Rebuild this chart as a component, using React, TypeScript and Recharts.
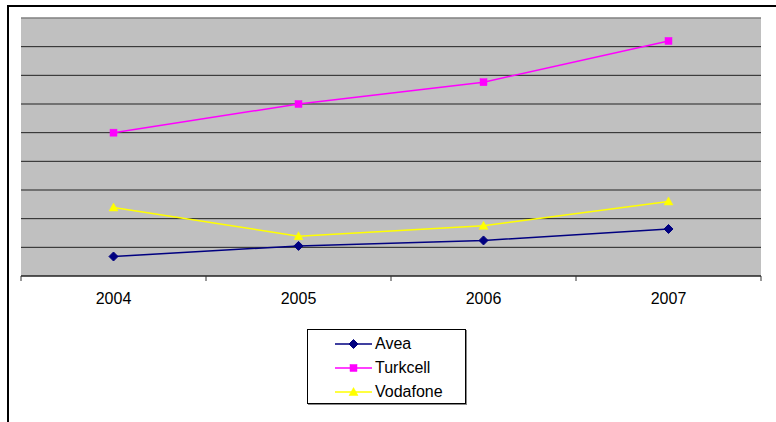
import React from 'react';
import { LineChart, Line, XAxis, YAxis, CartesianGrid, ReferenceLine } from 'recharts';

// Yearly figures per operator
const years = ['2004', '2005', '2006', '2007'];
const avea = [3.4, 5.25, 6.2, 8.2];
const turkcell = [25, 30, 33.8, 41];
const vodafone = [11.95, 6.95, 8.75, 13];
const yTicks = [0, 5, 10, 15, 20, 25, 30, 35, 40, 45];

const series = [
  { key: 'Avea', values: avea, color: '#000080', marker: 'diamond' },
  { key: 'Turkcell', values: turkcell, color: '#FF00FF', marker: 'square' },
  { key: 'Vodafone', values: vodafone, color: '#FFFF00', marker: 'triangle' },
];

// Each year sits in the middle of its slot on a numeric axis 0..n
const data = years.map((y, i) => {
  const row: Record<string, number | string> = { year: y, x: i + 0.5 };
  series.forEach((s) => {
    row[s.key] = s.values[i];
  });
  return row;
});

// Slot boundaries get tick marks, slot centres get the year label
const xTicks = years.flatMap((_, i) => [i, i + 0.5]).concat([years.length]);

const FONT = '"Liberation Sans", Arial, sans-serif';

function Marker({ type, cx, cy, color }: { type: string; cx: number; cy: number; color: string }) {
  if (type === 'diamond') {
    const r = 4.5;
    return <path d={`M${cx},${cy - r}L${cx + r},${cy}L${cx},${cy + r}L${cx - r},${cy}Z`} fill={color} stroke={color} />;
  }
  if (type === 'square') {
    return <rect x={cx - 3.5} y={cy - 3.5} width={7} height={7} fill={color} stroke={color} strokeWidth={0.5} />;
  }
  return <path d={`M${cx},${cy - 4.5}L${cx + 4.5},${cy + 3.5}L${cx - 4.5},${cy + 3.5}Z`} fill={color} stroke={color} strokeWidth={0.5} />;
}

function YearTick(props: any) {
  const { x, y, payload } = props;
  const v = payload.value as number;
  if (Number.isInteger(v)) {
    return <line x1={x} x2={x} y1={y} y2={y + 5} stroke="#333" strokeWidth={1} />;
  }
  return (
    <text x={x} y={y + 28} textAnchor="middle" fontSize={16} fontFamily={FONT} fill="#000">
      {years[Math.floor(v)]}
    </text>
  );
}

function LegendBox() {
  return (
    <div
      style={{
        position: 'absolute',
        left: 307,
        top: 329,
        width: 157,
        height: 73,
        border: '1px solid #000',
        boxShadow: '1px 1px 0 #888',
        background: '#fff',
        fontFamily: FONT,
        fontSize: 16,
      }}
    >
      {series.map((s, i) => (
        <div
          key={s.key}
          style={{ position: 'absolute', left: 0, top: 14 + i * 24 - 9, height: 18, width: '100%' }}
        >
          <svg width={40} height={18} style={{ position: 'absolute', left: 27, top: 0 }}>
            <line x1={0} x2={37} y1={9} y2={9} stroke={s.color} strokeWidth={1.5} />
            <Marker type={s.marker} cx={18.5} cy={9} color={s.color} />
          </svg>
          <span style={{ position: 'absolute', left: 67, top: 0, lineHeight: '18px', color: '#000' }}>{s.key}</span>
        </div>
      ))}
    </div>
  );
}

export default function App() {
  return (
    <div
      style={{
        position: 'fixed',
        left: 0,
        top: 0,
        width: 776,
        height: 422,
        overflow: 'hidden',
        background: '#fff',
      }}
    >
      <div
        style={{
          position: 'absolute',
          left: 7,
          top: 5,
          width: 800,
          height: 500,
          borderTop: '2px solid #000',
          borderLeft: '2px solid #000',
        }}
      />
      <div style={{ position: 'absolute', left: 0, top: 0 }}>
        <LineChart width={776} height={422} data={data} margin={{ top: 18, right: 15, bottom: 116, left: 21 }}>
          <CartesianGrid vertical={false} horizontal={false} fill="#C0C0C0" fillOpacity={1} />
          <XAxis
            dataKey="x"
            type="number"
            domain={[0, years.length]}
            ticks={xTicks}
            interval={0}
            allowDataOverflow
            height={30}
            tickSize={0}
            tickMargin={0}
            tickLine={false}
            tick={<YearTick />}
            axisLine={{ stroke: '#222', strokeWidth: 1.5 }}
          />
          <YAxis
            domain={[0, 45]}
            ticks={yTicks}
            width={0}
            tick={false}
            tickLine={false}
            axisLine={{ stroke: '#808080', strokeWidth: 1.5 }}
          />
          <YAxis
            yAxisId="r"
            orientation="right"
            domain={[0, 45]}
            ticks={yTicks}
            width={0}
            tick={false}
            tickLine={false}
            axisLine={{ stroke: '#808080', strokeWidth: 1.5 }}
          />
          {/* horizontal gridlines; the top edge is drawn lighter as the plot border */}
          {yTicks.slice(1).map((v) => (
            <ReferenceLine
              key={`grid-${v}`}
              y={v}
              stroke={v === yTicks[yTicks.length - 1] ? '#808080' : '#222'}
              strokeWidth={v === yTicks[yTicks.length - 1] ? 1.5 : 1}
            />
          ))}
          {series.map((s) => (
            <Line
              key={s.key}
              dataKey={s.key}
              stroke={s.color}
              strokeWidth={1.5}
              isAnimationActive={false}
              dot={(p: any) => <Marker key={`${s.key}-${p.index}`} type={s.marker} cx={p.cx} cy={p.cy} color={s.color} />}
              activeDot={false}
            />
          ))}
        </LineChart>
      </div>
      <LegendBox />
    </div>
  );
}
